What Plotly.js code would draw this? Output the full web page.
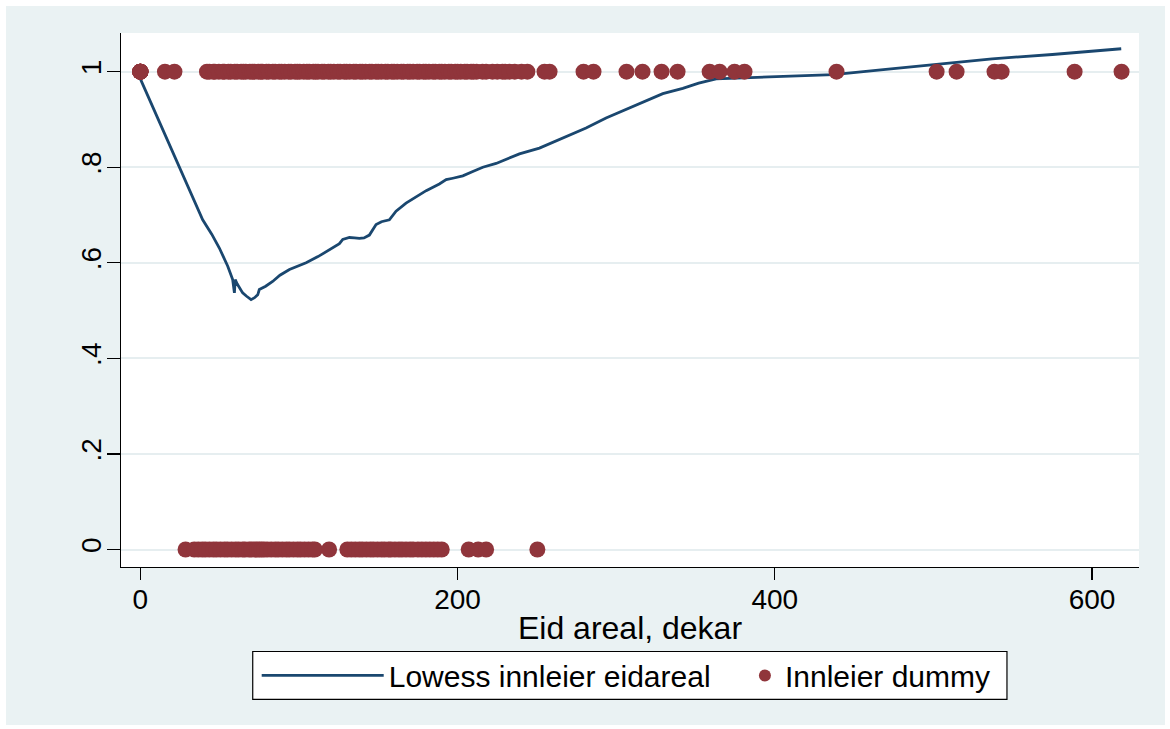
<!DOCTYPE html>
<html>
<head>
<meta charset="utf-8">
<script src="https://cdn.plot.ly/plotly-3.0.1.min.js"></script>
<style>
  html, body { margin: 0; padding: 0; background: #ffffff; }
  #chart { position: absolute; left: 6px; top: 6px; width: 1159px; height: 719px; }
</style>
</head>
<body>
<div id="chart"></div>
<script>
// Lowess smoother: innleier vs eid areal
const lowessX = [0, 10, 20, 30, 39.3, 45, 49.8, 55.1, 58.2, 59.3, 59.8, 61, 64.5, 67, 69.8, 72, 74, 75, 79, 83.4, 88, 94, 104.5, 112, 119.2, 125.5, 127.6, 131.8, 135, 138.1, 141, 144.4, 148.6, 152, 157, 161.2, 167.5, 173.9, 180.2, 188.5, 192.8, 197, 203.3, 209.6, 215.9, 224.3, 228.5, 239, 251.6, 268.4, 281, 293.6, 314.6, 329.4, 342, 352, 363, 400, 437, 470, 502, 537, 575, 618.4];
const lowessY = [0.985, 0.91, 0.838, 0.762, 0.690, 0.660, 0.631, 0.593, 0.565, 0.537, 0.565, 0.556, 0.537, 0.530, 0.523, 0.527, 0.533, 0.544, 0.551, 0.561, 0.574, 0.586, 0.600, 0.613, 0.628, 0.640, 0.649, 0.653, 0.652, 0.651, 0.652, 0.658, 0.680, 0.686, 0.690, 0.708, 0.725, 0.739, 0.751, 0.765, 0.774, 0.777, 0.782, 0.791, 0.800, 0.808, 0.814, 0.828, 0.840, 0.865, 0.882, 0.903, 0.933, 0.954, 0.965, 0.976, 0.985, 0.989, 0.994, 1.005, 1.015, 1.027, 1.036, 1.048];

// Innleier dummy = 1 observations (eid areal)
const dummyOneX = [0, 0, 0, 0, 0, 0, 0, 0, 0, 0, 15.5, 21.5,
  42, 43.5, 46, 47, 49.5, 52, 53, 55.5, 57, 59.5, 61, 63.5, 65, 66.5, 69, 70.5, 72, 74.5, 76, 77, 79.5, 81, 83.5, 85, 87.5, 89, 91, 93.5, 95, 97.5, 99, 100.5, 103, 105, 106.5, 109, 110.5, 112, 114.5, 116, 118.5, 120, 122, 124.5, 126, 128.5, 130, 132, 134.5, 136, 138.5, 140, 142, 144.5, 146, 148.5, 150, 152, 154.5, 156, 158.5, 160, 162, 164.5, 166, 168.5, 170, 172, 174.5, 176, 178.5, 180, 182, 184.5, 186, 188.5, 190, 192, 194.5, 196, 198.5, 200, 202, 204.5, 206, 208.5, 210, 212, 215.7, 218, 222, 225, 228.3, 230, 232.7, 236, 240.3, 244, 254.8, 258,
  279.4, 285.7, 306.5, 316.6, 328.6, 338.7, 358.9, 365.2, 374.6, 380.9, 438.9, 502.0, 514.6, 538.5, 543.0, 589.0, 618.6];
const dummyOneY = dummyOneX.map(() => 1);

// Innleier dummy = 0 observations (eid areal)
const dummyZeroX = [28.5, 34, 36.5, 39, 41, 43.5, 46, 48, 50.5, 53, 55, 57.5, 60, 62, 64.5, 66, 68.5, 70, 72, 73.5, 75, 76.5, 78, 80, 82.5, 85, 87, 89.5, 92, 94, 96.5, 99, 101, 103.5, 106, 108.5, 110, 119, 130.5, 133, 135.5, 138, 140, 142.5, 145, 147, 149.5, 152, 154, 156.5, 158, 160.5, 163, 165, 167.5, 170, 172, 175, 177.5, 180, 182.5, 185, 187.5, 190, 207, 213, 218, 250.3];
const dummyZeroY = dummyZeroX.map(() => 0);

const yTickVals = [0, 0.2, 0.4, 0.6, 0.8, 1];
const yTickText = ["0", ".2", ".4", ".6", ".8", "1"];
const xTickVals = [0, 200, 400, 600];
const xTickText = ["0", "200", "400", "600"];

const FONT = '"Liberation Sans", Arial, sans-serif';
const NAVY = '#1A476F';
const MAROON = '#90353B';
const BG = '#EAF2F3';

const traces = [
  {
    type: 'scatter', mode: 'lines', name: 'Lowess innleier eidareal',
    x: lowessX, y: lowessY,
    line: { color: NAVY, width: 2.8 },
    hoverinfo: 'skip', legend: 'legend'
  },
  {
    type: 'scatter', mode: 'markers', name: 'Innleier dummy',
    x: dummyOneX.concat(dummyZeroX), y: dummyOneY.concat(dummyZeroY),
    marker: { color: MAROON, size: 16, line: { width: 0 } },
    hoverinfo: 'skip', legend: 'legend2'
  }
];

const layout = {
  width: 1159, height: 719,
  paper_bgcolor: BG, plot_bgcolor: '#ffffff',
  margin: { l: 115, r: 26, t: 27, b: 158, pad: 0 },
  font: { family: FONT, color: '#000000', size: 28 },
  showlegend: true,
  xaxis: {
    range: [-12.2, 629.6], tickmode: 'array', tickvals: xTickVals, ticktext: xTickText,
    showgrid: false, zeroline: false, showline: true, linecolor: '#000000', linewidth: 1.2,
    ticks: 'outside', ticklen: 12, tickwidth: 1.2, tickcolor: '#000000',
    ticklabelstandoff: -5,
    tickfont: { family: FONT, size: 28, color: '#000000' },
    title: { text: 'Eid areal, dekar', font: { family: FONT, size: 32, color: '#000000' }, standoff: 2 }
  },
  yaxis: {
    range: [-0.0366, 1.081], tickmode: 'array', tickvals: yTickVals, ticktext: yTickText,
    showgrid: true, gridcolor: '#E6EEF0', gridwidth: 2, zeroline: false,
    showline: true, linecolor: '#000000', linewidth: 1.2,
    ticks: 'outside', ticklen: 13, tickwidth: 1.2, tickcolor: '#000000', tickangle: -90,
    ticklabelstandoff: -5,
    tickfont: { family: FONT, size: 28, color: '#000000' }
  },
  legend: {
    orientation: 'h', x: 0.1333, xanchor: 'left', y: -0.2031, yanchor: 'middle',
    bgcolor: 'rgba(0,0,0,0)', borderwidth: 0,
    font: { family: FONT, size: 30, color: '#000000' },
    itemwidth: 122
  },
  legend2: {
    orientation: 'h', x: 0.6129, xanchor: 'left', y: -0.2031, yanchor: 'middle',
    bgcolor: 'rgba(0,0,0,0)', borderwidth: 0,
    font: { family: FONT, size: 30, color: '#000000' },
    itemsizing: 'constant', itemwidth: 30
  },
  shapes: [
    { type: 'rect', xref: 'paper', yref: 'paper', x0: 0.1294, x1: 0.8703, y0: -0.248, y1: -0.1582,
      line: { color: '#000000', width: 1.2 }, fillcolor: '#ffffff', layer: 'above' }
  ]
};

Plotly.newPlot('chart', traces, layout, { staticPlot: true, displayModeBar: false });
</script>
</body>
</html>
